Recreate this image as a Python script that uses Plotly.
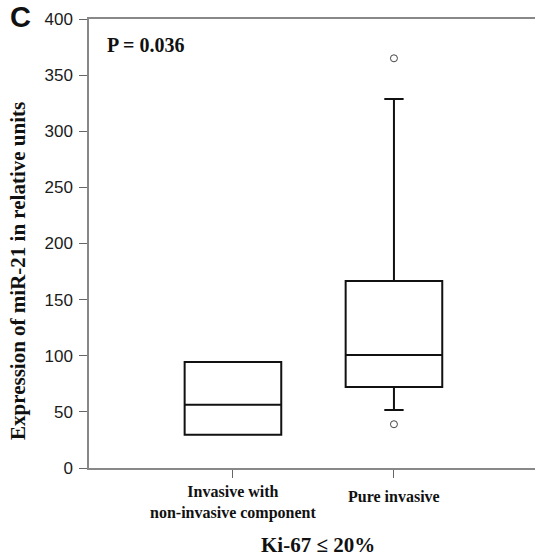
import plotly.graph_objects as go

categories = ["Invasive with<br>non-invasive component", "Pure invasive"]
positions = [0, 1]
label_y = [-0.0758, -0.0624]
q1 = [29.7, 72.2]
median = [56.4, 100.7]
q3 = [94.4, 166.6]
lowerfence = [29.7, 51.7]
upperfence = [94.4, 328.7]
outlier_x = [1, 1]
outlier_y = [365, 39]
y_ticks = [0, 50, 100, 150, 200, 250, 300, 350, 400]

serif = "Liberation Serif, Times New Roman, serif"
sans = "Liberation Sans, Arial, sans-serif"

fig = go.Figure()
fig.add_trace(go.Box(
    x=positions, q1=q1, median=median, q3=q3,
    lowerfence=lowerfence, upperfence=upperfence,
    width=0.6, whiskerwidth=0.2,
    fillcolor="white", line=dict(color="#111111", width=2),
    boxpoints=False, showlegend=False, hoverinfo="skip",
))
fig.add_trace(go.Scatter(
    x=outlier_x, y=outlier_y, mode="markers",
    marker=dict(symbol="circle-open", size=7, color="#444444", line=dict(width=1)),
    showlegend=False, hoverinfo="skip",
))

for px, lab, ly in zip(positions, categories, label_y):
    fig.add_annotation(x=px, y=ly, xref="x", yref="paper", text="<b>" + lab + "</b>",
                       showarrow=False, yanchor="middle", align="center",
                       font=dict(family=serif, size=16, color="#111111"))

fig.add_annotation(x=0.513, y=-0.171, xref="paper", yref="paper",
                   text="<b>Ki-67 \u2264 20%</b>", showarrow=False, yanchor="middle",
                   font=dict(family=serif, size=21, color="#111111"))
fig.add_annotation(x=-0.159, y=0.439, xref="paper", yref="paper",
                   text="<b>Expression of miR-21 in relative units</b>", textangle=-90,
                   showarrow=False, xanchor="center", yanchor="middle",
                   font=dict(family=serif, size=21, color="#111111"))
fig.add_annotation(x=-0.181, y=1.045, xref="paper", yref="paper", text="<b>C</b>",
                   showarrow=False, xanchor="left", yanchor="top",
                   font=dict(family=sans, size=29, color="#111111"))
fig.add_annotation(x=0.036, y=0.97, xref="paper", yref="paper", text="<b>P = 0.036</b>",
                   showarrow=False, xanchor="left", yanchor="top",
                   font=dict(family=serif, size=20, color="#111111"))

fig.update_layout(
    width=535, height=558,
    margin=dict(l=89, r=0, t=19, b=90),
    plot_bgcolor="white", paper_bgcolor="white",
    xaxis=dict(range=[-0.894, 1.876], tickvals=positions, ticktext=["", ""],
               showline=True, linecolor="#888888", linewidth=1.5, mirror=True,
               ticks="outside", ticklen=8, tickcolor="#666666", tickwidth=1,
               showgrid=False, zeroline=False),
    yaxis=dict(range=[0, 400], tickvals=y_ticks, showline=True, linecolor="#888888",
               linewidth=1.5, ticks="outside", ticklen=8, tickcolor="#666666",
               showgrid=False, zeroline=False, ticklabelstandoff=3,
               tickfont=dict(family=sans, size=17, color="#1a1a1a")),
)

fig.write_html("out.html")
